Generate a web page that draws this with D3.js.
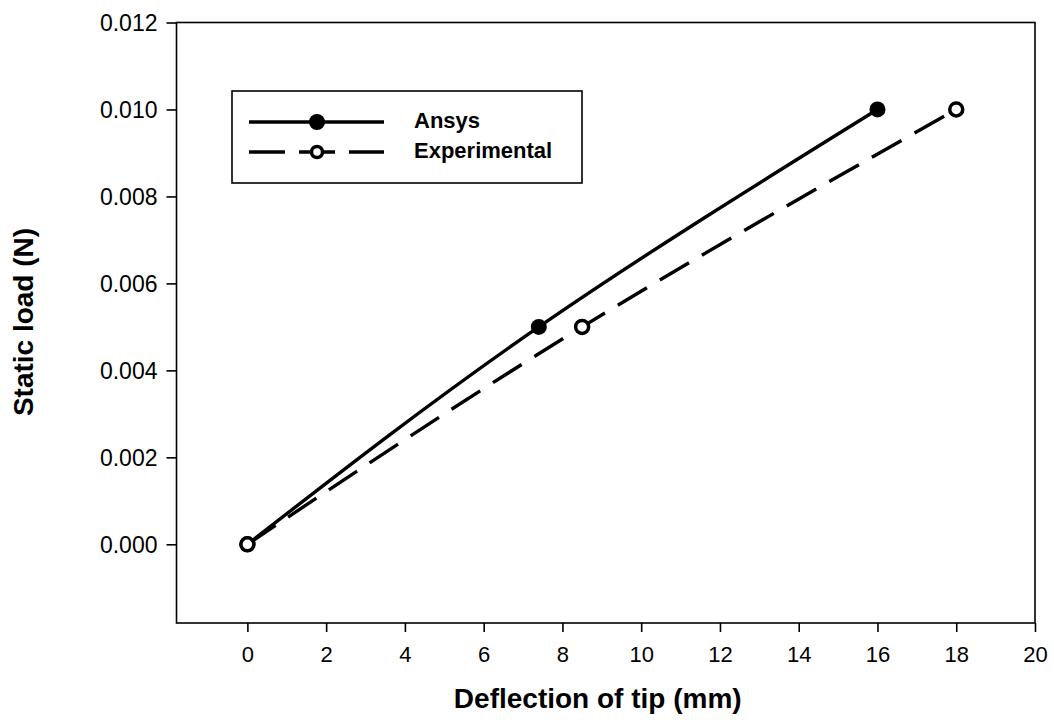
<!DOCTYPE html>
<html>
<head>
<meta charset="utf-8">
<script src="https://cdn.jsdelivr.net/npm/d3@7"></script>
<style>
  html, body { margin: 0; padding: 0; background: #fff; }
  svg { display: block; font-family: "Liberation Sans", Arial, sans-serif; }
</style>
</head>
<body>
<svg id="chart" width="1054" height="725"></svg>
<script>
// Tip deflection (mm) versus static load (N)
const ansysDeflection = [0, 7.4, 16];
const ansysLoad = [0, 0.005, 0.010];
const expDeflection = [0, 8.5, 18];
const expLoad = [0, 0.005, 0.010];

const xTicks = [0, 2, 4, 6, 8, 10, 12, 14, 16, 18, 20];
const yTicks = [0.000, 0.002, 0.004, 0.006, 0.008, 0.010, 0.012];
const seriesNames = ["Ansys", "Experimental"];

const svg = d3.select("#chart");
const plot = { left: 176.5, top: 22.5, right: 1035, bottom: 623 };

const x = d3.scaleLinear().domain([-1.8, 20]).range([plot.left, plot.right]);
const y = d3.scaleLinear().domain([-0.00181, 0.012]).range([plot.bottom, plot.top]);

// Frame
svg.append("rect")
  .attr("x", plot.left).attr("y", plot.top)
  .attr("width", plot.right - plot.left).attr("height", plot.bottom - plot.top)
  .attr("fill", "none").attr("stroke", "#000").attr("stroke-width", 1.6);

// Axes
const xAxis = svg.append("g")
  .attr("transform", `translate(0,${plot.bottom})`)
  .call(d3.axisBottom(x).tickValues(xTicks).tickSize(9).tickPadding(14).tickFormat(d3.format("d")));
const yAxis = svg.append("g")
  .attr("transform", `translate(${plot.left},0)`)
  .call(d3.axisLeft(y).tickValues(yTicks).tickSize(10).tickPadding(9).tickFormat(d3.format(".3f")));

[xAxis, yAxis].forEach(g => {
  g.select(".domain").remove();
  g.selectAll(".tick line").attr("stroke", "#000").attr("stroke-width", 1.6);
  g.selectAll(".tick text").attr("fill", "#000").style("font-family", '"Liberation Sans", Arial, sans-serif');
});
xAxis.selectAll(".tick text").style("font-size", "22px");
yAxis.selectAll(".tick text").style("font-size", "23px").attr("dy", "0.35em");

// Axis titles
svg.append("text")
  .attr("x", (plot.left + plot.right) / 2 - 8).attr("y", 708)
  .attr("text-anchor", "middle")
  .style("font-size", "28px").style("font-weight", "bold")
  .text("Deflection of tip (mm)");
svg.append("text")
  .attr("transform", "translate(33,322) rotate(-90)")
  .attr("text-anchor", "middle")
  .style("font-size", "28px").style("font-weight", "bold")
  .text("Static load (N)");

// Curves
const line = d3.line().x(d => x(d[0])).y(d => y(d[1])).curve(d3.curveNatural);
const ansysPts = ansysDeflection.map((d, i) => [d, ansysLoad[i]]);
const expPts = expDeflection.map((d, i) => [d, expLoad[i]]);

svg.append("path").datum(expPts).attr("d", line)
  .attr("fill", "none").attr("stroke", "#000").attr("stroke-width", 3.4)
  .attr("stroke-dasharray", "34,15");
svg.append("path").datum(ansysPts).attr("d", line)
  .attr("fill", "none").attr("stroke", "#000").attr("stroke-width", 3.4);

// Markers
svg.append("g").selectAll("circle").data(ansysPts).join("circle")
  .attr("cx", d => x(d[0])).attr("cy", d => y(d[1])).attr("r", 8).attr("fill", "#000");
svg.append("g").selectAll("circle").data(expPts).join("circle")
  .attr("cx", d => x(d[0])).attr("cy", d => y(d[1])).attr("r", 6.5)
  .attr("fill", "#fff").attr("stroke", "#000").attr("stroke-width", 3.5);

// Legend
const legend = svg.append("g");
legend.append("rect")
  .attr("x", 232).attr("y", 91).attr("width", 350).attr("height", 92)
  .attr("fill", "#fff").attr("stroke", "#000").attr("stroke-width", 1.6);
const rowY = [122, 152];
legend.append("line").attr("x1", 249).attr("x2", 384).attr("y1", rowY[0]).attr("y2", rowY[0])
  .attr("stroke", "#000").attr("stroke-width", 3.4);
legend.append("circle").attr("cx", 317).attr("cy", rowY[0]).attr("r", 8).attr("fill", "#000");
legend.append("line").attr("x1", 249).attr("x2", 384).attr("y1", rowY[1]).attr("y2", rowY[1])
  .attr("stroke", "#000").attr("stroke-width", 3.4).attr("stroke-dasharray", "36,14");
legend.append("circle").attr("cx", 317).attr("cy", rowY[1]).attr("r", 5.5)
  .attr("fill", "#fff").attr("stroke", "#000").attr("stroke-width", 3.5);
legend.selectAll("text.lbl").data(seriesNames).join("text")
  .attr("class", "lbl")
  .attr("x", 414).attr("y", (d, i) => rowY[i] + 6)
  .style("font-size", "22px").style("font-weight", "bold")
  .text(d => d);
</script>
</body>
</html>
